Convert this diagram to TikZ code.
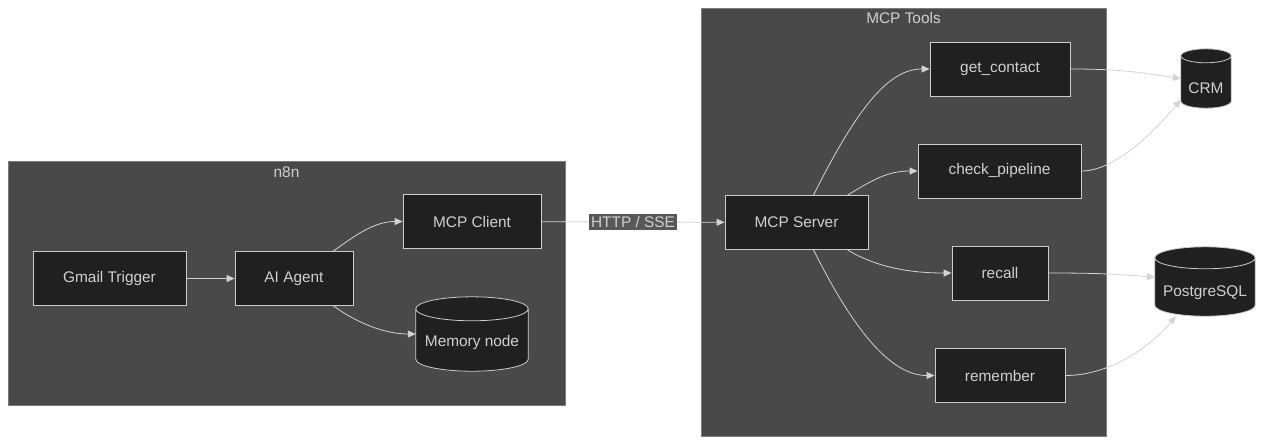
\documentclass[tikz,border=0pt]{standalone}
\usepackage{fontspec}
\setmainfont{Liberation Sans}
\usetikzlibrary{shapes.geometric, arrows.meta, positioning, calc}

\definecolor{clusterbg}{HTML}{484949}
\definecolor{clusterline}{HTML}{7C7C7C}
\definecolor{nodebg}{HTML}{1F2020}
\definecolor{nodeline}{HTML}{CCCCCC}
\definecolor{nodetext}{HTML}{D0D0D0}
\definecolor{edgeline}{HTML}{D3D3D3}
\definecolor{labelbg}{HTML}{585858}

% database cylinder round a named box: #1 node, #2 ellipse half height (pt)
\newcommand{\dbcyl}[2]{%
  \draw[draw=nodeline, fill=nodebg, line width=0.8pt]
    let \p1=(#1.north west), \p2=(#1.south east), \n1={(\x2-\x1)/2} in
    (\x1,\y1-#2pt) -- (\x1,\y2+#2pt)
    arc[start angle=180, end angle=360, x radius=\n1, y radius=#2pt]
    -- (\x2,\y1-#2pt)
    arc[start angle=0, end angle=180, x radius=\n1, y radius=#2pt] -- cycle
    (\x1,\y1-#2pt) arc[start angle=180, end angle=360, x radius=\n1, y radius=#2pt];}

\begin{document}
\begin{tikzpicture}[x=1pt, y=-1pt,
    font=\fontsize{15.4}{18}\selectfont,
    cluster/.style={rectangle, draw=clusterline, fill=clusterbg, line width=0.8pt, inner sep=0pt},
    clustertitle/.style={anchor=north, text=nodetext, inner sep=0pt},
    proc/.style={rectangle, draw=nodeline, fill=nodebg, text=nodetext,
                 line width=0.8pt, minimum height=54, inner sep=0pt},
    dbbox/.style={rectangle, inner sep=0pt},
    dbtext/.style={text=nodetext, inner sep=0pt},
    arrow/.style={-{Triangle[length=8pt, width=7pt]}, draw=edgeline, line width=0.8pt},
    edgelabel/.style={fill=labelbg, text=nodetext, inner xsep=2pt, inner ysep=2.5pt}
]
\useasboundingbox (0,0) rectangle (1264,445);

% clusters
\node[cluster, minimum width=557, minimum height=244] (n8nbox) at (286.5,283) {};
\node[clustertitle] (n8ntitle) at ([yshift=-6]n8nbox.north) {n8n};
\node[cluster, minimum width=405, minimum height=428] (toolbox) at (903.5,222) {};
\node[clustertitle] (tooltitle) at ([yshift=-5]toolbox.north) {MCP Tools};

% n8n side
\node[proc, minimum width=153] (gmail)  at (109.5,278.5) {Gmail Trigger};
\node[proc, minimum width=118] (agent)  at (294,278.5)   {AI Agent};
\node[proc, minimum width=138] (client) at (472,221.5)   {MCP Client};
\node[dbbox, minimum width=112, minimum height=74] (memory) at (472,334) {};
\dbcyl{memory}{12}
\node[dbtext] (memorytext) at ([yshift=-9]memory.center) {Memory node};

% MCP side
\node[proc, minimum width=143] (server) at (796.5,222.5) {MCP Server};
\node[proc, minimum width=140] (getc)   at (1000,69)    {get\_contact};
\node[proc, minimum width=163] (checkp) at (999.5,171)  {check\_pipeline};
\node[proc, minimum width=96]  (recall) at (1000,273)   {recall};
\node[proc, minimum width=130] (rememb) at (1000,375.5) {remember};
\node[dbbox, minimum width=50, minimum height=59] (crm) at (1206,78.5) {};
\dbcyl{crm}{7}
\node[dbtext] (crmtext) at ([yshift=-9.5]crm.center) {CRM};
\node[dbbox, minimum width=100, minimum height=69] (pg) at (1205,281.5) {};
\dbcyl{pg}{11}
\node[dbtext] (pgtext) at ([yshift=-11]pg.center) {PostgreSQL};

% edges
\draw[arrow] (gmail) -- (agent);
\draw[arrow] ([xshift=-20]agent.north east) .. controls +(22,-16) and +(-28,0) .. (client.west);
\draw[arrow] ([xshift=-20]agent.south east) .. controls +(25,18) and +(-30,0) .. (memory.west);
\draw[arrow] (client) -- node[edgelabel] {HTTP / SSE} (server);
\draw[arrow] ([xshift=17]server.north) .. controls +(45,-90) and +(-40,0) .. (getc.west);
\draw[arrow] ([xshift=51]server.north) .. controls +(25,-15) and +(-30,0) .. (checkp.west);
\draw[arrow] ([xshift=51]server.south) .. controls +(30,18) and +(-40,0) .. (recall.west);
\draw[arrow] ([xshift=17]server.south) .. controls +(45,90) and +(-40,0) .. (rememb.west);
\draw[arrow] (getc.east) .. controls +(50,0) and +(-40,-6) .. (crm.west);
\draw[arrow] (checkp.east) .. controls +(35,0) and +(-25,30) .. (crm.220);
\draw[arrow] (recall.east) .. controls +(50,0) and +(-40,-3) .. (pg.175);
\draw[arrow] (rememb.east) .. controls +(45,0) and +(-25,30) .. (pg.230);
\end{tikzpicture}
\end{document}
